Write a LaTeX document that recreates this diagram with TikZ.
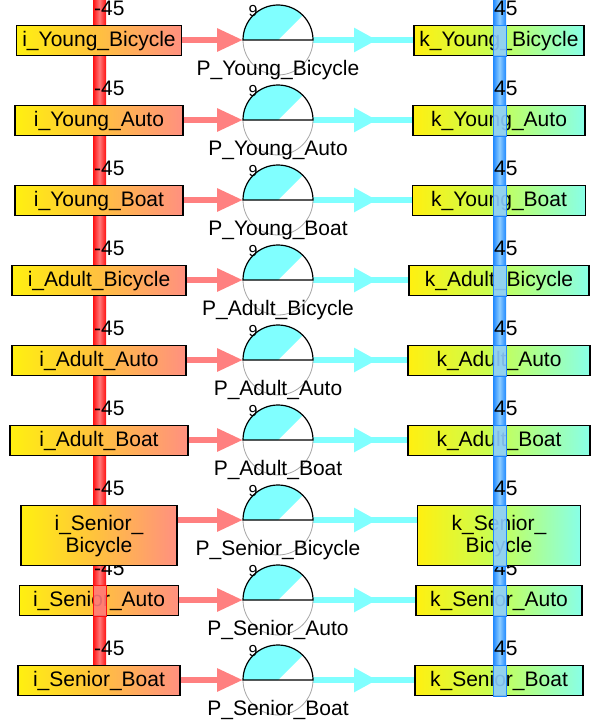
\documentclass[tikz,border=0pt]{standalone}
\usepackage{fontspec}
\setmainfont{Liberation Sans}
\usetikzlibrary{arrows.meta,decorations.markings}

\definecolor{flowred}{HTML}{FF8080}
\definecolor{flowcyan}{HTML}{80FFFF}
\definecolor{boxyellow}{HTML}{FFF010}
\definecolor{boxorange}{HTML}{FFC040}
\definecolor{boxpink}{HTML}{FF9080}
\definecolor{boxlime}{HTML}{C4FF58}
\definecolor{boxaqua}{HTML}{88FFE8}
\definecolor{barred}{HTML}{FF1010}
\definecolor{barpink}{HTML}{FF7878}
\definecolor{barblue}{HTML}{1E88FF}
\definecolor{barlight}{HTML}{8CCCFF}

\tikzset{
    inbox/.style={draw=black, line width=1.4pt, inner sep=2pt, align=center,
        left color=boxyellow, right color=boxpink, middle color=boxorange},
    outbox/.style={draw=black, line width=1.4pt, inner sep=2pt, align=center,
        left color=boxyellow, right color=boxaqua, middle color=boxlime},
    inflow/.style={flowred, line width=6pt, -{Triangle[length=26pt,width=22pt]}},
    outflow/.style={flowcyan, line width=6pt, postaction={decorate},
        decoration={markings, mark=at position 64pt with {\arrow{Triangle[length=23pt,width=23pt]}}}},
    valve/.style={circle, minimum size=70pt, inner sep=0pt, outer sep=0pt},
}

\begin{document}
\begin{tikzpicture}[x=1pt, y=1pt, every node/.style={font=\fontsize{21}{22}\selectfont}]
        \useasboundingbox (0, 0) rectangle (590, -725);

        % the two stock bars
        \coordinate (redtop) at (99.5, 0);
        \coordinate (redend) at (99.5, -665);
        \coordinate (bluetop) at (499.5, 0);
        \coordinate (blueend) at (499.5, -665);
        \shade[left color=barred, right color=barred, middle color=barpink]
            ([xshift=-6.5pt]redtop) rectangle ([xshift=6.5pt]redend);
        \shade[left color=barblue, right color=barblue, middle color=barlight]
            ([xshift=-6.5pt]bluetop) rectangle ([xshift=6.5pt]blueend);

        \foreach \i in {0,...,8} {
            \pgfmathsetmacro{\y}{-(80*\i + 8)}
            \node (din\i) at (94, \y) [anchor=west, inner sep=0pt] {-45};
            \node (dout\i) at (494, \y) [anchor=west, inner sep=0pt] {45};
        }

        \foreach \grp/\kind/\brk/\lw/\rw/\bh [count=\i from 0] in {
                Young/Bicycle/\_/165/170/30, Young/Auto/\_/168/172/30, Young/Boat/\_/168/173/30,
                Adult/Bicycle/\_/174/180/30, Adult/Auto/\_/174/182/30, Adult/Boat/\_/178/182/30,
                Senior/Bicycle/\_\\/156/163/60, Senior/Auto/\_/159/166/30, Senior/Boat/\_/162/168/30} {
            \pgfmathsetmacro{\y}{-(80*\i + 40)}
            \pgfmathsetmacro{\ytop}{\y + 15}
            \node (in\i) at (99, \ytop) [inbox, anchor=north, minimum width=\lw pt, minimum height=\bh pt] {i\_\grp\brk\kind};
            \node (out\i) at (499, \ytop) [outbox, anchor=north, minimum width=\rw pt, minimum height=\bh pt] {k\_\grp\brk\kind};
            \draw[barblue, fill=barlight, fill opacity=0.9, line width=0.8pt]
                ([xshift=-6.5pt]bluetop |- out\i.north) rectangle ([xshift=6.5pt]bluetop |- out\i.south);

            \node (p\i) at (278, \y) [valve] {};
            \draw[inflow] (p\i.west -| in\i.east) -- (p\i.west);
            \draw[outflow] (p\i.east) -- (p\i.east -| out\i.west);
            \fill[white] (p\i.center) -- (p\i.east) arc[start angle=0, end angle=45, radius=35pt] -- cycle;
            \fill[flowcyan] (p\i.center) -- (p\i.45) arc[start angle=45, end angle=180, radius=35pt] -- cycle;
            \draw[gray!70, line width=0.8pt] (p\i.west) arc[start angle=180, end angle=360, radius=35pt];
            \draw[line width=1.2pt] (p\i.west) arc[start angle=180, end angle=0, radius=35pt] -- cycle;
            \node (pname\i) at (278, \y - 30) {P\_\grp\_\kind};
            \node (plev\i) at (253, \y + 29) [font=\fontsize{16}{16}\selectfont, inner sep=0pt] {9};
        }

        \draw[barred, fill=barpink, fill opacity=0.9, line width=0.8pt]
            ([xshift=-6.5pt]redtop |- in7.north) rectangle ([xshift=6.5pt]redtop |- in7.south);
    \end{tikzpicture}
\end{document}
